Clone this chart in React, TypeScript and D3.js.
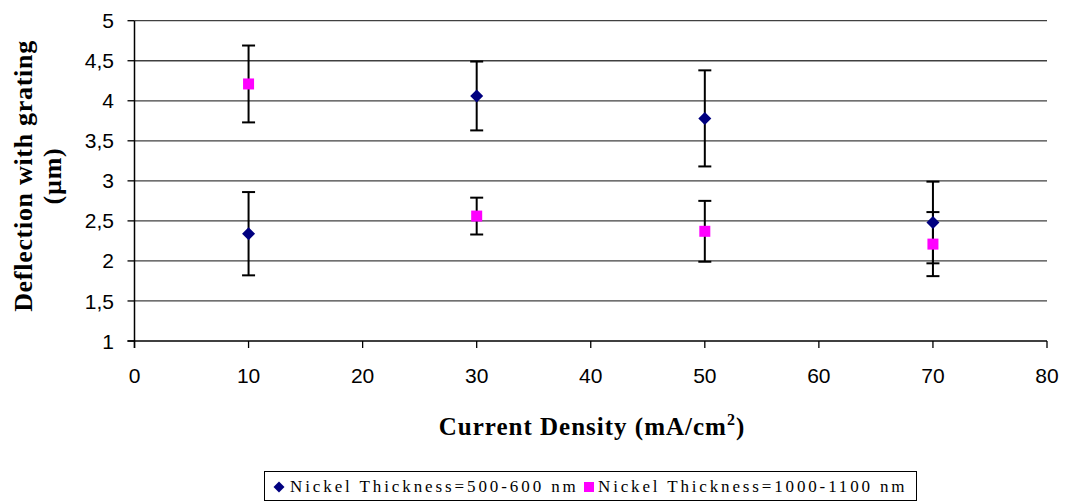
import React from "react";
import * as d3 from "d3";

const xTicks = [0, 10, 20, 30, 40, 50, 60, 70, 80];
const yTicks = [1, 1.5, 2, 2.5, 3, 3.5, 4, 4.5, 5];

const seriesAName = "Nickel Thickness=500-600 nm";
const seriesBName = "Nickel Thickness=1000-1100 nm";

const xA = [10, 30, 50, 70];
const yA = [2.34, 4.06, 3.78, 2.48];
const errA = [0.52, 0.43, 0.6, 0.51];

const xB = [10, 30, 50, 70];
const yB = [4.21, 2.56, 2.37, 2.21];
const errB = [0.48, 0.23, 0.38, 0.4];

const W = 1067;
const H = 503;
const M = { left: 134.5, right: 1047, top: 20.7, bottom: 341 };

const diamondPath = (r: number) => {
  const p = d3.path();
  p.moveTo(0, -r);
  p.lineTo(r, 0);
  p.lineTo(0, r);
  p.lineTo(-r, 0);
  p.closePath();
  return p.toString();
};

export default function App() {
  const x = d3.scaleLinear().domain([0, 80]).range([M.left, M.right]);
  const y = d3.scaleLinear().domain([1, 5]).range([M.bottom, M.top]);
  const fmt = (v: number) => String(v).replace(".", ",");
  const cap = 6.5;
  const sans = "Liberation Sans, Arial, sans-serif";
  const serif = "Liberation Serif, Times New Roman, serif";

  const errBar = (cx: number, cy: number, e: number, key: string) => (
    <g key={key} stroke="#000" strokeWidth={2}>
      <line x1={x(cx)} x2={x(cx)} y1={y(cy + e)} y2={y(cy - e)} />
      <line x1={x(cx) - cap} x2={x(cx) + cap} y1={y(cy + e)} y2={y(cy + e)} />
      <line x1={x(cx) - cap} x2={x(cx) + cap} y1={y(cy - e)} y2={y(cy - e)} />
    </g>
  );

  return (
    <svg width={W} height={H} style={{ position: "absolute", left: 0, top: 0, background: "#fff" }}>
      {/* grid */}
      {yTicks.slice(1).map((t) => (
        <line key={"g" + t} x1={M.left} x2={M.right} y1={y(t)} y2={y(t)} stroke="#404040" strokeWidth={1.3} />
      ))}
      {/* axes */}
      <line x1={M.left} x2={M.left} y1={M.top} y2={M.bottom + 7} stroke="#000" strokeWidth={1.5} />
      <line x1={M.left - 7} x2={M.right} y1={M.bottom} y2={M.bottom} stroke="#000" strokeWidth={1.5} />
      {yTicks.map((t) => (
        <g key={"yt" + t}>
          <line x1={M.left - 7} x2={M.left} y1={y(t)} y2={y(t)} stroke="#000" strokeWidth={1.3} />
          <text x={114} y={y(t)} dy="0.36em" textAnchor="end" fontFamily={sans} fontSize={21} fill="#000">
            {fmt(t)}
          </text>
        </g>
      ))}
      {xTicks.map((t) => (
        <g key={"xt" + t}>
          <line x1={x(t)} x2={x(t)} y1={M.bottom} y2={M.bottom + 7} stroke="#000" strokeWidth={1.3} />
          <text x={x(t)} y={383} textAnchor="middle" fontFamily={sans} fontSize={21} fill="#000">
            {t}
          </text>
        </g>
      ))}
      {/* error bars */}
      {xA.map((v, i) => errBar(v, yA[i], errA[i], "ea" + i))}
      {xB.map((v, i) => errBar(v, yB[i], errB[i], "eb" + i))}
      {/* markers */}
      {xA.map((v, i) => (
        <path key={"ma" + i} d={diamondPath(6.5)} transform={`translate(${x(v)},${y(yA[i])})`} fill="#000080" />
      ))}
      {xB.map((v, i) => (
        <rect key={"mb" + i} x={x(v) - 5.5} y={y(yB[i]) - 5.5} width={11} height={11} fill="#ff00ff" />
      ))}
      {/* axis titles */}
      <text
        transform="translate(32,176) rotate(-90)"
        textAnchor="middle"
        fontFamily={serif}
        fontWeight="bold"
        fontSize={26}
        letterSpacing={0.7}
        fill="#000"
      >
        Deflection with grating
      </text>
      <text
        transform="translate(61,176) rotate(-90)"
        textAnchor="middle"
        fontFamily={serif}
        fontWeight="bold"
        fontSize={26}
        letterSpacing={0.7}
        fill="#000"
      >
        (µm)
      </text>
      <text x={592} y={435} textAnchor="middle" fontFamily={serif} fontWeight="bold" fontSize={25} fill="#000" letterSpacing={1}>
        Current Density (mA/cm<tspan dy={-10} fontSize={16}>2</tspan><tspan dy={10}>)</tspan>
      </text>
      {/* legend */}
      <rect x={264.5} y={471.5} width={652} height={29} fill="#fff" stroke="#000" strokeWidth={1} />
      <path d={diamondPath(5.5)} transform="translate(279,487)" fill="#000080" />
      <text x={290} y={492} fontFamily={serif} fontSize={17} fill="#000" letterSpacing={2.9}>
        {seriesAName}
      </text>
      <rect x={584} y={482} width={10} height={10} fill="#ff00ff" />
      <text x={598} y={492} fontFamily={serif} fontSize={17} fill="#000" letterSpacing={2.85}>
        {seriesBName}
      </text>
    </svg>
  );
}
